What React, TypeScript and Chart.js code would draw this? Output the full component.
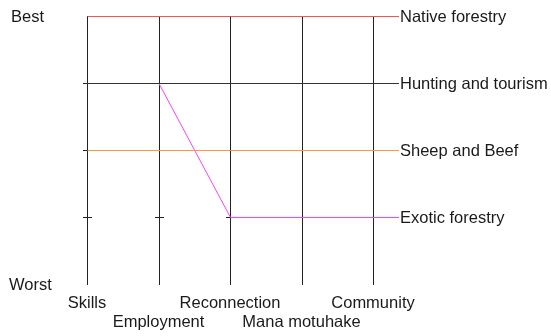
import React, { useEffect, useRef } from "react";
import { Chart, registerables } from "chart.js";

Chart.register(...registerables);

const criteria = ["Skills", "Employment", "Reconnection", "Mana motuhake", "Community"];
const seriesNames = ["Exotic forestry", "Sheep and Beef", "Hunting and tourism", "Native forestry"];
const exoticForestry = [3, 3, 1, 1, 1];
const sheepAndBeef = [2, 2, 2, 2, 2];
const huntingAndTourism = [3, 3, 3, 3, 3];
const nativeForestry = [4, 4, 4, 4, 4];
const seriesColors = ["#ff40ff", "#ff9a22", "#333333", "#ff5050"];
const levelLabels = ["Worst", "Best"];
const tickLevels = [1, 2, 3];

const FONT = "16.5px 'Liberation Sans', Arial, sans-serif";
const TEXT = "#1a1a1a";

export default function App() {
  const ref = useRef<HTMLCanvasElement | null>(null);

  useEffect(() => {
    if (!ref.current) return;
    const values = [exoticForestry, sheepAndBeef, huntingAndTourism, nativeForestry];

    const overlay = {
      id: "parallelAxes",
      beforeDatasetsDraw(chart: any) {
        const { ctx } = chart;
        const xs = chart.scales.x;
        const ys = chart.scales.y;
        ctx.save();
        ctx.strokeStyle = "#222222";
        ctx.lineWidth = 1;
        criteria.forEach((_, i) => {
          const x = Math.round(xs.getPixelForValue(i)) + 0.5;
          ctx.beginPath();
          ctx.moveTo(x, ys.getPixelForValue(4));
          ctx.lineTo(x, ys.getPixelForValue(0) + 1);
          ctx.stroke();
          tickLevels.forEach((lv) => {
            const y = Math.round(ys.getPixelForValue(lv)) + 0.5;
            ctx.beginPath();
            ctx.moveTo(x - 4.5, y);
            ctx.lineTo(x + 4.5, y);
            ctx.stroke();
          });
        });
        ctx.restore();
        ctx.save();
        ctx.translate(0.5, 0.5);
      },
      afterDatasetsDraw(chart: any) {
        const { ctx, chartArea } = chart;
        ctx.restore();
        const xs = chart.scales.x;
        const ys = chart.scales.y;
        ctx.save();
        ctx.font = FONT;
        ctx.fillStyle = TEXT;
        ctx.textBaseline = "middle";
        ctx.textAlign = "left";
        ctx.fillText(levelLabels[1], 11, ys.getPixelForValue(4) + 1);
        ctx.fillText(levelLabels[0], 9, ys.getPixelForValue(0) + 1);
        ctx.textAlign = "center";
        criteria.forEach((c, i) => {
          const x = xs.getPixelForValue(i);
          const y = chartArea.bottom + (i % 2 === 0 ? 19 : 38);
          ctx.fillText(c, x, y);
        });
        const last = criteria.length - 1;
        const labelX = chartArea.right + 26;
        chart.data.datasets.forEach((ds: any, di: number) => {
          const y = Math.round(ys.getPixelForValue(values[di][last])) + 0.5;
          ctx.strokeStyle = ds.borderColor;
          ctx.lineWidth = 1;
          ctx.beginPath();
          ctx.moveTo(Math.round(xs.getPixelForValue(last)), y);
          ctx.lineTo(labelX, y);
          ctx.stroke();
        });
        ctx.textAlign = "left";
        ctx.fillStyle = TEXT;
        chart.data.datasets.forEach((ds: any, di: number) => {
          const y = ys.getPixelForValue(values[di][last]) + 1;
          ctx.fillText(ds.label, labelX + 1, y);
        });
        ctx.restore();
      },
    };

    const chart = new Chart(ref.current, {
      type: "line",
      data: {
        datasets: seriesNames.map((name, di) => ({
          label: name,
          data: values[di].map((v, i) => ({ x: i, y: v })),
          borderColor: seriesColors[di],
          borderWidth: 1,
          pointRadius: 0,
          tension: 0,
          fill: false,
          clip: false,
          order: seriesNames.length - di,
        })),
      },
      options: {
        animation: false,
        responsive: false,
        maintainAspectRatio: false,
        layout: { padding: { left: 87, right: 178, top: 16, bottom: 52 } },
        plugins: { legend: { display: false }, tooltip: { enabled: false } },
        scales: {
          x: { type: "linear", min: 0, max: criteria.length - 1, display: false },
          y: { type: "linear", min: 0, max: 4, display: false },
        },
      },
      plugins: [overlay],
    });
    return () => chart.destroy();
  }, []);

  return (
    <div style={{ position: "absolute", left: 0, top: 0, width: 551, height: 336, background: "#fff" }}>
      <canvas ref={ref} width={551} height={336} style={{ width: 551, height: 336 }} />
    </div>
  );
}
